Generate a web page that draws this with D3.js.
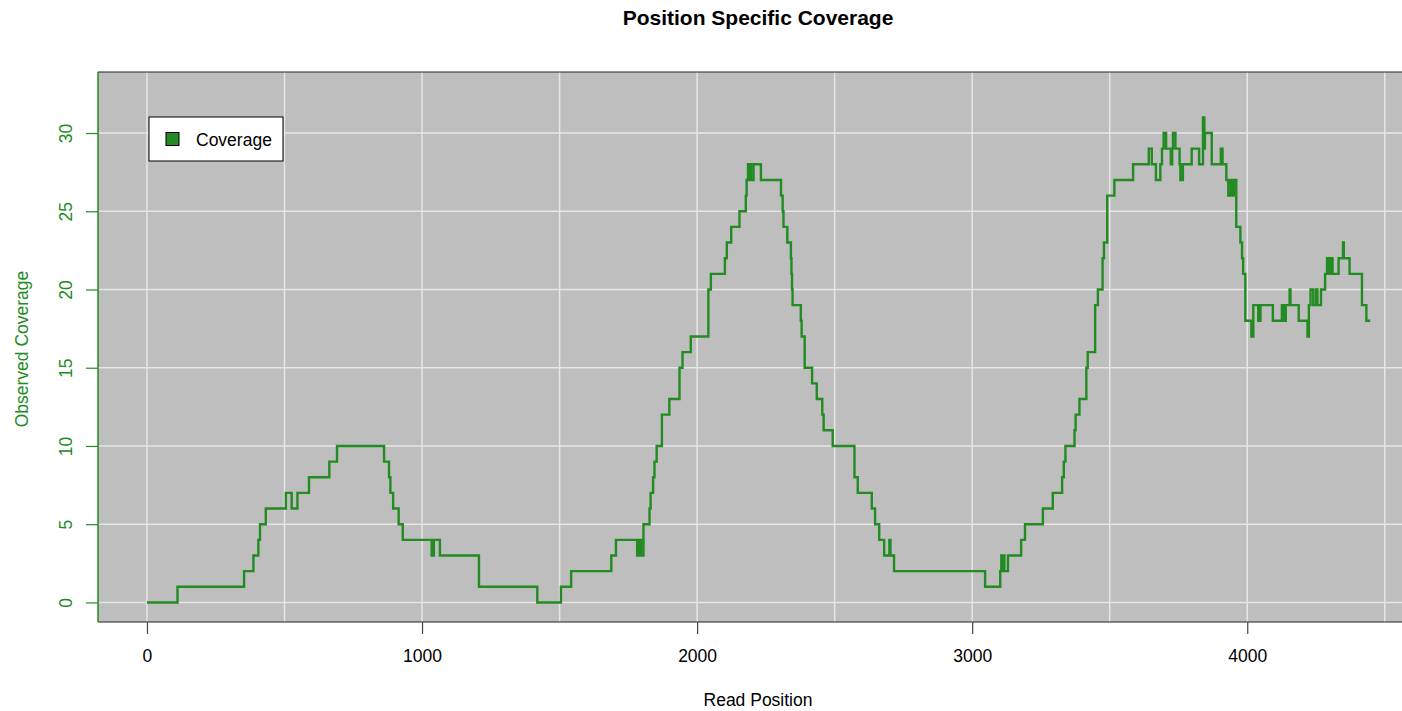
<!DOCTYPE html>
<html>
<head>
<meta charset="utf-8">
<script src="https://cdn.jsdelivr.net/npm/d3@7"></script>
<style>
  html, body { margin: 0; padding: 0; background: #fff; overflow: hidden; }
  svg { display: block; font-family: "Liberation Sans", Arial, Helvetica, sans-serif; }
</style>
</head>
<body>
<div id="chart"></div>
<script>
// read positions where the coverage changes (step starts)
const positions = [
  0, 111, 353, 387, 405, 411, 432, 505, 526, 547, 589, 663, 691, 862, 880, 885, 895, 915, 930,
  1035, 1043, 1065, 1207, 1419, 1505, 1542, 1688, 1705, 1782, 1790, 1796, 1805, 1827, 1831,
  1840, 1845, 1853, 1872, 1899, 1936, 1947, 1977, 2041, 2050, 2101, 2108, 2124, 2154, 2177,
  2180, 2185, 2190, 2193, 2196, 2205, 2232, 2305, 2311, 2314, 2328, 2341, 2343, 2345, 2347,
  2377, 2380, 2391, 2418, 2435, 2455, 2460, 2493, 2572, 2584, 2635, 2647, 2662, 2680, 2699,
  2703, 2716, 3047, 3102, 3106, 3110, 3113, 3117, 3130, 3178, 3192, 3257, 3293, 3327, 3333,
  3339, 3372, 3376, 3390, 3415, 3420, 3447, 3457, 3474, 3479, 3491, 3517, 3585, 3642, 3653,
  3668, 3684, 3690, 3696, 3705, 3722, 3727, 3730, 3739, 3754, 3757, 3766, 3798, 3825, 3839,
  3844, 3846, 3871, 3904, 3910, 3924, 3931, 3940, 3945, 3951, 3960, 3975, 3981, 3985, 3993,
  4015, 4022, 4040, 4048, 4093, 4126, 4133, 4140, 4154, 4157, 4187, 4219, 4224, 4230, 4240,
  4250, 4255, 4268, 4283, 4290, 4294, 4302, 4310, 4332, 4348, 4351, 4372, 4417, 4433, 4447
];

// observed coverage from each position onwards
const coverage = [
  0, 1, 2, 3, 4, 5, 6, 7, 6, 7, 8, 9, 10, 9, 8, 7, 6, 5, 4,
  3, 4, 3, 1, 0, 1, 2, 3, 4, 3, 4, 3, 5, 6, 7,
  8, 9, 10, 12, 13, 15, 16, 17, 20, 21, 22, 23, 24, 25, 26,
  27, 28, 27, 28, 27, 28, 27, 26, 25, 24, 23, 22, 21, 20, 19,
  18, 17, 15, 14, 13, 12, 11, 10, 8, 7, 6, 5, 4, 3, 4,
  3, 2, 1, 2, 3, 2, 3, 2, 3, 4, 5, 6, 7, 8, 9,
  10, 11, 12, 13, 15, 16, 19, 20, 22, 23, 26, 27, 28, 29, 28,
  27, 28, 29, 30, 29, 28, 29, 30, 29, 28, 27, 28, 29, 28, 31,
  29, 30, 28, 29, 28, 27, 26, 27, 26, 27, 24, 23, 22, 21, 18,
  17, 19, 18, 19, 18, 19, 18, 19, 20, 19, 18, 17, 19, 20, 19,
  20, 19, 20, 21, 22, 21, 22, 21, 22, 23, 22, 21, 19, 18, 18
];

const xTicks = [0, 1000, 2000, 3000, 4000];
const xGrid = [0, 500, 1000, 1500, 2000, 2500, 3000, 3500, 4000, 4500];
const yTicks = [0, 5, 10, 15, 20, 25, 30];

const title = "Position Specific Coverage";
const xLabel = "Read Position";
const yLabel = "Observed Coverage";
const legendLabel = "Coverage";

const green = "#228b22";
const width = 1402,
      height = 711;

// plot region (right edge runs past the window like the reference)
const plot = {left: 98, right: 1420, top: 72, bottom: 622};

const x = d3.scaleLinear().domain([-178, 4628]).range([plot.left, plot.right]);
const y = d3.scaleLinear().domain([-1.25, 33.9]).range([plot.bottom, plot.top]);

const svg = d3.select("#chart").append("svg")
  .attr("width", width)
  .attr("height", height);

// grey panel
svg.append("rect")
  .attr("x", plot.left)
  .attr("y", plot.top)
  .attr("width", plot.right - plot.left)
  .attr("height", plot.bottom - plot.top)
  .attr("fill", "#bebebe");

// grid
svg.append("g")
  .selectAll("line")
  .data(xGrid)
  .join("line")
  .attr("x1", d => x(d)).attr("x2", d => x(d))
  .attr("y1", plot.top).attr("y2", plot.bottom)
  .attr("stroke", "#e6e6e6")
  .attr("stroke-width", 1.5);

svg.append("g")
  .selectAll("line")
  .data(yTicks)
  .join("line")
  .attr("x1", plot.left).attr("x2", plot.right)
  .attr("y1", d => y(d)).attr("y2", d => y(d))
  .attr("stroke", "#e6e6e6")
  .attr("stroke-width", 1.5);

// coverage line as a step function
const data = positions.map((p, i) => [p, coverage[i]]);
const line = d3.line()
  .x(d => x(d[0]))
  .y(d => y(d[1]))
  .curve(d3.curveStepAfter);

svg.append("path")
  .datum(data)
  .attr("fill", "none")
  .attr("stroke", green)
  .attr("stroke-width", 2.4)
  .attr("stroke-linejoin", "miter")
  .attr("d", line);

// box (top and bottom black, left green axis)
svg.append("path")
  .attr("d", `M${plot.left},${plot.bottom}H${plot.right}M${plot.left},${plot.top}H${plot.right}`)
  .attr("stroke", "#222")
  .attr("stroke-width", 1.2)
  .attr("fill", "none");

// x axis
const xAxis = svg.append("g")
  .attr("transform", `translate(0,${plot.bottom})`)
  .call(d3.axisBottom(x).tickValues(xTicks).tickSize(12).tickPadding(16).tickFormat(d3.format("d")));
xAxis.select(".domain").remove();
xAxis.selectAll(".tick line").attr("stroke", "#444").attr("stroke-width", 1.2);
xAxis.selectAll(".tick text")
  .attr("fill", "#000")
  .attr("font-size", "17.5px")
  .attr("font-family", "Liberation Sans, Arial, sans-serif");

// y axis, green
const yAxis = svg.append("g")
  .attr("transform", `translate(${plot.left},0)`)
  .call(d3.axisLeft(y).tickValues(yTicks).tickSize(12).tickFormat(d3.format("d")));
yAxis.select(".domain")
  .attr("d", `M0,${plot.top}V${plot.bottom}`)
  .attr("stroke", green)
  .attr("stroke-width", 1.5);
yAxis.selectAll(".tick line").attr("stroke", green).attr("stroke-width", 1.2);
yAxis.selectAll(".tick text")
  .attr("fill", green)
  .attr("font-size", "17.5px")
  .attr("font-family", "Liberation Sans, Arial, sans-serif")
  .attr("x", null)
  .attr("dy", null)
  .attr("text-anchor", "middle")
  .attr("transform", "translate(-26,0) rotate(-90)");

// titles
svg.append("text")
  .attr("x", 758)
  .attr("y", 25)
  .attr("text-anchor", "middle")
  .attr("font-size", "21px")
  .attr("font-weight", "bold")
  .text(title);

svg.append("text")
  .attr("x", 758)
  .attr("y", 706)
  .attr("text-anchor", "middle")
  .attr("font-size", "17.5px")
  .text(xLabel);

svg.append("text")
  .attr("transform", `translate(28,${(plot.top + plot.bottom) / 2 + 2}) rotate(-90)`)
  .attr("text-anchor", "middle")
  .attr("fill", green)
  .attr("font-size", "17.5px")
  .text(yLabel);

// legend
const legend = svg.append("g").attr("transform", "translate(149,117)");
legend.append("rect")
  .attr("width", 134)
  .attr("height", 44)
  .attr("fill", "#fff")
  .attr("stroke", "#000")
  .attr("stroke-width", 1);
legend.append("rect")
  .attr("x", 17)
  .attr("y", 15.5)
  .attr("width", 13)
  .attr("height", 13)
  .attr("fill", green)
  .attr("stroke", "#000")
  .attr("stroke-width", 1);
legend.append("text")
  .attr("x", 47)
  .attr("y", 28.5)
  .attr("font-size", "17.5px")
  .text(legendLabel);
</script>
</body>
</html>
